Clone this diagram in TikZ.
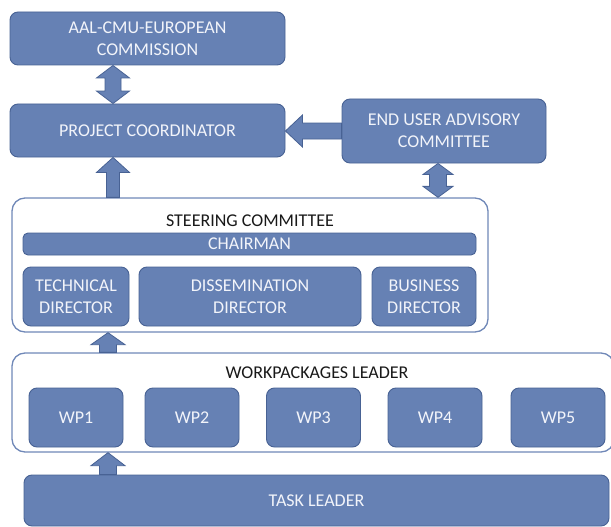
\documentclass[tikz,border=0pt]{standalone}
\usepackage{fontspec}
\setmainfont{Carlito}
\usetikzlibrary{calc}
\definecolor{boxfill}{RGB}{102,129,180}
\definecolor{boxline}{RGB}{72,98,148}
\definecolor{contline}{RGB}{112,136,184}
\definecolor{boxtext}{RGB}{242,244,250}
\definecolor{titletext}{RGB}{25,25,25}
\tikzset{
  box/.style={draw=boxline, line width=0.9pt, fill=boxfill, rounded corners=8pt,
    text=boxtext, align=center, inner sep=0pt, font=\fontsize{18pt}{22pt}\selectfont},
  container/.style={draw=contline, line width=1.3pt, fill=white, rounded corners=13pt, inner sep=0pt},
  title/.style={text=titletext, inner sep=0pt, font=\fontsize{18pt}{22pt}\selectfont},
  blkarrow/.style={fill=boxfill, draw=boxline, line width=0.8pt, line join=miter}
}
\newcommand\blkup[5]{%
  \filldraw[blkarrow] let \p1=(#1), \p2=(#2) in
  (\x1-#3,\y1) -- (\x1-#3,\y2-#5) -- (\x1-#4,\y2-#5) -- (\x1,\y2) -- (\x1+#4,\y2-#5) -- (\x1+#3,\y2-#5) -- (\x1+#3,\y1) -- cycle;}
\newcommand\blkdbl[5]{%
  \filldraw[blkarrow] let \p1=(#1), \p2=(#2) in
  (\x1,\y1) -- (\x1+#4,\y1-#5) -- (\x1+#3,\y1-#5) -- (\x1+#3,\y2+#5) -- (\x1+#4,\y2+#5) -- (\x1,\y2) -- (\x1-#4,\y2+#5) -- (\x1-#3,\y2+#5) -- (\x1-#3,\y1-#5) -- (\x1-#4,\y1-#5) -- cycle;}
\newcommand\blkleft[5]{%
  \filldraw[blkarrow] let \p1=(#1), \p2=(#2) in
  (\x2,\y1) -- (\x2+#5,\y1+#4) -- (\x2+#5,\y1+#3) -- (\x1,\y1+#3) -- (\x1,\y1-#3) -- (\x2+#5,\y1-#3) -- (\x2+#5,\y1-#4) -- cycle;}
\begin{document}
\begin{tikzpicture}[x=1pt,y=-1pt]
\useasboundingbox (0,0) rectangle (611,527);
% top boxes
\node[box, minimum width=275pt, minimum height=53pt] (aal) at (147.5,38.5) {AAL-CMU-EUROPEAN\\COMMISSION};
\node[box, minimum width=275pt, minimum height=53pt] (pc) at (147.5,130.5) {PROJECT COORDINATOR};
\node[box, minimum width=204pt, minimum height=64pt] (eu) at (444,131) {END USER ADVISORY\\COMMITTEE};
% steering committee
\node[container, minimum width=476pt, minimum height=134pt] (sc) at (250,265) {};
\node[title] (sctitle) at (250,220.5) {STEERING COMMITTEE};
\node[box, rounded corners=5pt, minimum width=453pt, minimum height=22pt] (chair) at (249.5,244) {CHAIRMAN};
\node[box, minimum width=106pt, minimum height=59pt] (tech) at (76,296.5) {TECHNICAL\\DIRECTOR};
\node[box, minimum width=222pt, minimum height=59pt] (diss) at (250,296.5) {DISSEMINATION\\DIRECTOR};
\node[box, minimum width=104pt, minimum height=59pt] (bus) at (424,296.5) {BUSINESS\\DIRECTOR};
% workpackages
\node[container, minimum width=602pt, minimum height=99pt] (wpl) at (313,402.5) {};
\node[title] (wptitle) at (317,372.5) {WORKPACKAGES LEADER};
\node[box, minimum width=94pt, minimum height=59pt] (wp1) at (76,417.5) {WP1};
\node[box, minimum width=94pt, minimum height=59pt] (wp2) at (192,417.5) {WP2};
\node[box, minimum width=94pt, minimum height=59pt] (wp3) at (313.5,417.5) {WP3};
\node[box, minimum width=94pt, minimum height=59pt] (wp4) at (435,417.5) {WP4};
\node[box, minimum width=94pt, minimum height=59pt] (wp5) at (558,417.5) {WP5};
% task leader
\node[box, minimum width=585pt, minimum height=51pt] (tl) at (316.5,500.5) {TASK LEADER};
% arrow axes
\coordinate (ax1) at (113,0);
\coordinate (ax2) at (438,0);
\coordinate (ax3) at (108,0);
\coordinate (ay1) at (0,131);
% block arrows
\blkdbl{aal.south -| ax1}{pc.north -| ax1}{8pt}{16.5pt}{12.5pt}
\blkup{sc.north -| ax1}{pc.south -| ax1}{6.5pt}{16.5pt}{15pt}
\blkleft{eu.west |- ay1}{pc.east |- ay1}{8pt}{16pt}{17pt}
\blkdbl{eu.south -| ax2}{sc.north -| ax2}{8.5pt}{15pt}{11pt}
\blkup{wpl.north -| ax3}{sc.south -| ax3}{8.5pt}{17pt}{12pt}
\blkup{tl.north -| ax3}{wpl.south -| ax3}{8.5pt}{17pt}{13pt}
\end{tikzpicture}
\end{document}
